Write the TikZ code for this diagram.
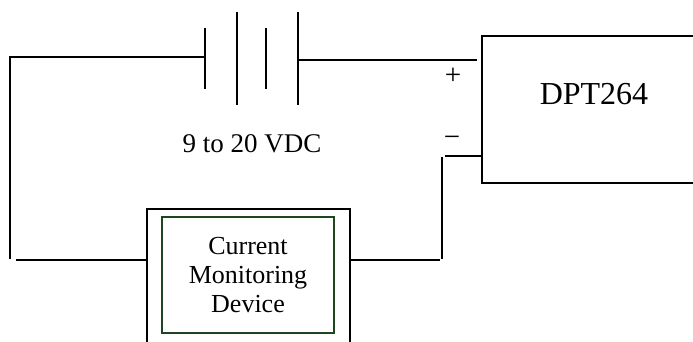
\documentclass[tikz,border=0pt]{standalone}
\usepackage{fontspec}
\setmainfont{Liberation Serif}
\begin{document}
\begin{tikzpicture}[x=1pt,y=-1pt,
  wire/.style={line width=1.8pt,line cap=butt},
  plate/.style={line width=1.8pt},
  sign/.style={inner sep=0,font=\fontsize{29}{32}\selectfont},
  lbl/.style={inner sep=0,font=\fontsize{27}{31}\selectfont}]
\useasboundingbox (0,0) rectangle (693,342);
\clip (0,0) rectangle (693,342);
% battery plates
\coordinate (p1t) at (205,28); \coordinate (p1b) at (205,89);
\coordinate (p2t) at (237,12); \coordinate (p2b) at (237,105);
\coordinate (p3t) at (266,28); \coordinate (p3b) at (266,89);
\coordinate (p4t) at (298,12); \coordinate (p4b) at (298,105);
\draw[plate] (p1t) -- (p1b);
\draw[plate] (p2t) -- (p2b);
\draw[plate] (p3t) -- (p3b);
\draw[plate] (p4t) -- (p4b);
\coordinate (bneg) at (205,57);
\coordinate (bpos) at (298,60);
% DPT264 box
\draw[line width=1.8pt] (482,36) rectangle (720,183);
\coordinate (dptp) at (477,60);
\coordinate (dptm) at (482,156);
\node[lbl,font=\fontsize{32}{36}\selectfont] (dpt) at (594,94) {DPT264};
\node[sign] (plus) at (453,76) {+};
\node[sign] (minus) at (452,141) {−};
% label
\node[lbl,anchor=base] (vdc) at (252,153) {9 to 20 VDC};
% current monitoring device
\draw[line width=1.8pt] (147,360) -- (147,209) -- (350,209) -- (350,360);
\draw[line width=1.7pt,draw={rgb,255:red,30;green,70;blue,30}] (162,217) rectangle (334,333);
\node[inner sep=0,align=center,font=\fontsize{26}{29}\selectfont] (cmd) at (248,275) {Current\\Monitoring\\Device};
\coordinate (cmdl) at (147,260);
\coordinate (cmdr) at (350,260);
% wires
\coordinate (tl) at (10,57);
\coordinate (bl) at (10,259);
\coordinate (bl2) at (16,260);
\draw[wire] (bneg) -- (tl) -- (bl);
\draw[wire] (bl2) -- (cmdl);
\draw[wire] (bpos) -- (dptp);
\coordinate (mr) at (445,156);
\draw[wire] (mr) -- (dptm);
\coordinate (vt) at (442,157);
\coordinate (vb) at (442,259);
\draw[wire] (vt) -- (vb);
\coordinate (br) at (440,260);
\draw[wire] (cmdr) -- (br);
\end{tikzpicture}
\end{document}
